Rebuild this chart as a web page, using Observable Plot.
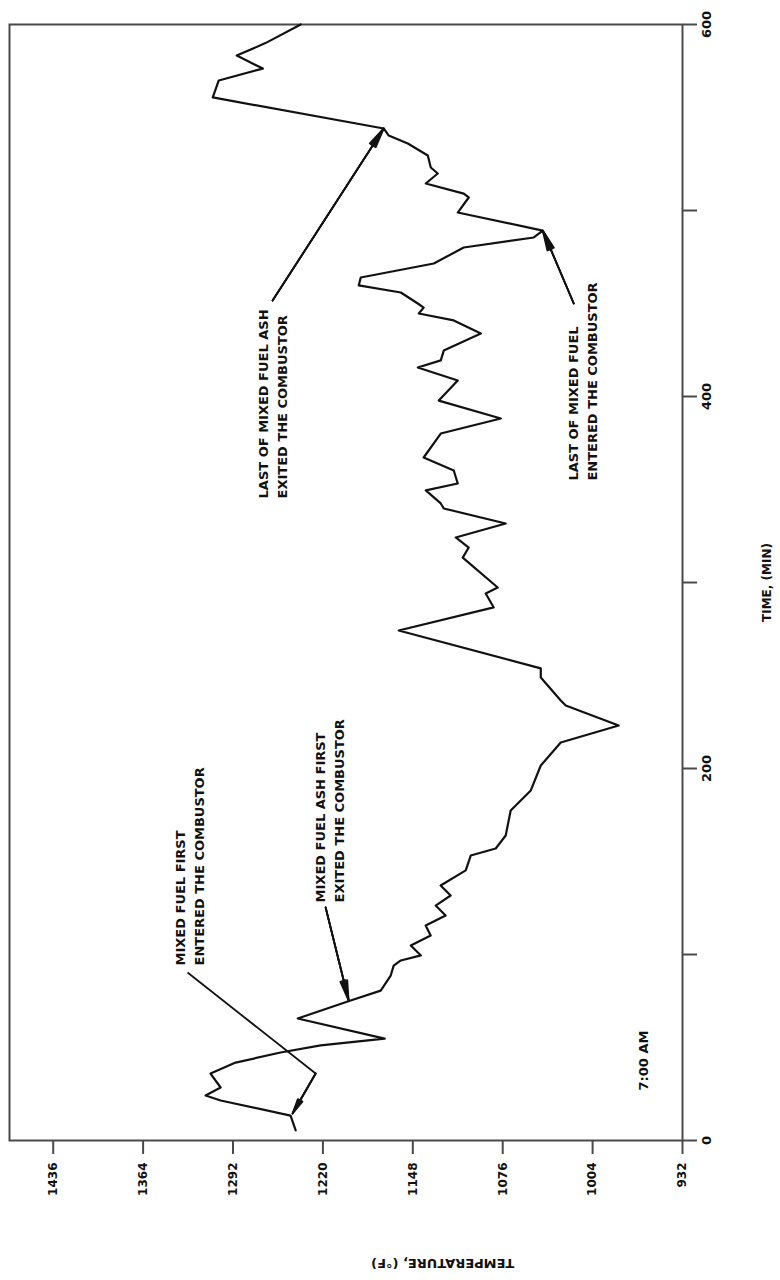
<!DOCTYPE html>
<html>
<head>
<meta charset="utf-8">
<script src="https://cdn.jsdelivr.net/npm/d3@7"></script>
<script src="https://cdn.jsdelivr.net/npm/@observablehq/plot@0.6"></script>
<style>
  html, body { margin: 0; padding: 0; background: #fff; }
  #chart svg { display: block; }
</style>
</head>
<body>
<div id="chart"></div>
<script>
// Time (min) and combustor temperature (°F)
const timeMin = [5.4, 13.4, 21.5, 24.2, 28.5, 36, 41.9, 47.3, 51.1, 54.8, 65.6, 75.3, 80.6,
  88.7, 94, 96.8, 99.5, 104.8, 110.2, 115.6, 121, 126.3, 131.7, 137.1, 145.2, 153.2, 157, 164,
  177.4, 188.2, 201.6, 214, 223.1, 233.9, 236.6, 248.9, 253.8, 274.2, 286.6, 294.1, 297.3,
  313.4, 318.8, 324.2, 331.7, 339.8, 342.5, 349.5, 353.2, 360.2, 367.2, 380.1, 388.2, 397.8,
  408.6, 415.6, 419.4, 424.7, 433.9, 440.9, 444.6, 447.8, 450, 455.9, 459.7, 464, 471.5,
  480.1, 485.5, 489.2, 498.9, 507, 509.1, 514.5, 519.9, 523.1, 529.6, 536, 540.3, 544.1,
  560.8, 569.9, 576.3, 583.3, 590, 600];
const tempF = [1241.8, 1245.9, 1301.9, 1314, 1301.9, 1310, 1289.9, 1253.9, 1221.8, 1170.5, 1240.2, 1197.8, 1173.7,
  1165.7, 1163.3, 1157.6, 1141.5, 1149.6, 1133.7, 1137.7, 1121.7, 1129.7, 1117.7, 1125.7, 1105.6, 1101.6, 1081.6, 1073.6,
  1069.6, 1053.5, 1045.5, 1029.5, 983.1, 1025.5, 1029.5, 1045.5, 1045.5, 1159.3, 1083.2, 1089.6, 1080,
  1108, 1103.2, 1113.6, 1073.6, 1123.2, 1125.6, 1137.6, 1112, 1115.2, 1139.3, 1125.6, 1077.5, 1127.2,
  1112, 1144, 1125.6, 1123.2, 1093.5, 1115.2, 1143.2, 1139.3, 1144, 1157.6, 1191.3, 1189.7, 1131.2,
  1107.2, 1051.1, 1043.9, 1112, 1103.2, 1107.2, 1137.6, 1128, 1133.6, 1136, 1152, 1167.3, 1171.3,
  1308.2, 1303.4, 1268.1, 1289, 1266, 1237.8];

// Axis ticks
const tempTicks = [1436, 1364, 1292, 1220, 1148, 1076, 1004, 932];
const timeTicks = [0, 100, 200, 300, 400, 500, 600];
const timeLabelled = [0, 200, 400, 600];

// Annotations (text, temperature, time)
const noteText = [
  "MIXED FUEL FIRST\nENTERED THE COMBUSTOR",
  "MIXED FUEL ASH FIRST\nEXITED THE COMBUSTOR",
  "LAST OF MIXED FUEL ASH\nEXITED THE COMBUSTOR",
  "LAST OF MIXED FUEL\nENTERED THE COMBUSTOR",
  "7:00 AM"
];
const noteTemp = [1328, 1215.8, 1261, 1012.7, 964.6];
const noteTime = [94.1, 128, 345.2, 354.8, 26.9];

// Leader lines (plain) and arrows: start temp/time -> end temp/time
const leadTemp1 = [1328.4], leadTime1 = [90.3], leadTemp2 = [1225.8], leadTime2 = [36];
const arrowTemp1 = [1225.8, 1217.8, 1260.3, 1019.1];
const arrowTime1 = [36, 125.3, 451.6, 450];
const arrowTemp2 = [1244.3, 1199.4, 1171.3, 1043.9];
const arrowTime2 = [14.5, 75.3, 544.1, 489.2];

const series = timeMin.map((t, i) => ({t, v: tempF[i]}));
const idx = a => a.map((_, i) => i);
const FONT = "DejaVu Sans, Liberation Sans, sans-serif";

// Several arrow layers with narrowing heads give a filled, elongated arrowhead
const arrowLayers = [20, 12, 5].map(angle => Plot.arrow(idx(arrowTemp1), {
  x1: i => arrowTemp1[i], y1: i => arrowTime1[i], x2: i => arrowTemp2[i], y2: i => arrowTime2[i],
  stroke: "#111", strokeWidth: 1.8, headLength: 17, headAngle: angle
}));

const chart = Plot.plot({
  width: 780,
  height: 1280,
  marginLeft: 9,
  marginRight: 98,
  marginTop: 24,
  marginBottom: 140,
  style: {fontFamily: FONT, fontWeight: "bold", color: "#111", background: "#fff"},
  x: {domain: [1471, 932]},
  y: {domain: [0, 600]},
  marks: [
    Plot.frame({stroke: "#4a4a4a", strokeWidth: 2}),
    Plot.axisX({
      ticks: tempTicks, tickSize: 14, tickPadding: 8, tickRotate: -90,
      tickFormat: d => String(d), fontSize: 12, label: null, stroke: "#4a4a4a", strokeWidth: 2
    }),
    Plot.axisY({
      anchor: "right", ticks: timeTicks, tickSize: 14, tickPadding: 14, tickRotate: -90,
      tickFormat: d => timeLabelled.includes(d) ? String(d) : "",
      fontSize: 13, label: null, stroke: "#4a4a4a", strokeWidth: 2
    }),
    Plot.line(series, {x: "v", y: "t", stroke: "#111", strokeWidth: 2.2, strokeLinejoin: "round"}),
    Plot.link(idx(leadTemp1), {
      x1: i => leadTemp1[i], y1: i => leadTime1[i], x2: i => leadTemp2[i], y2: i => leadTime2[i],
      stroke: "#111", strokeWidth: 1.8
    }),
    ...arrowLayers,
    Plot.text(idx(noteText), {
      x: i => noteTemp[i], y: i => noteTime[i], text: i => noteText[i],
      rotate: -90, textAnchor: "start", lineAnchor: "middle", lineHeight: 1.45,
      fontSize: 13, fontWeight: "bold", fill: "#111"
    }),
    Plot.text(["TIME, (MIN)"], {
      x: 864, y: 300, text: d => d, rotate: -90, textAnchor: "middle", lineAnchor: "middle",
      fontSize: 12, fontWeight: "bold", fill: "#111"
    }),
    Plot.text(["TEMPERATURE, (°F)"], {
      x: 1124, y: -66, text: d => d, rotate: 180, textAnchor: "middle", lineAnchor: "middle",
      fontSize: 13, fontWeight: "bold", fill: "#111"
    })
  ]
});
document.getElementById("chart").appendChild(chart);
</script>
</body>
</html>
